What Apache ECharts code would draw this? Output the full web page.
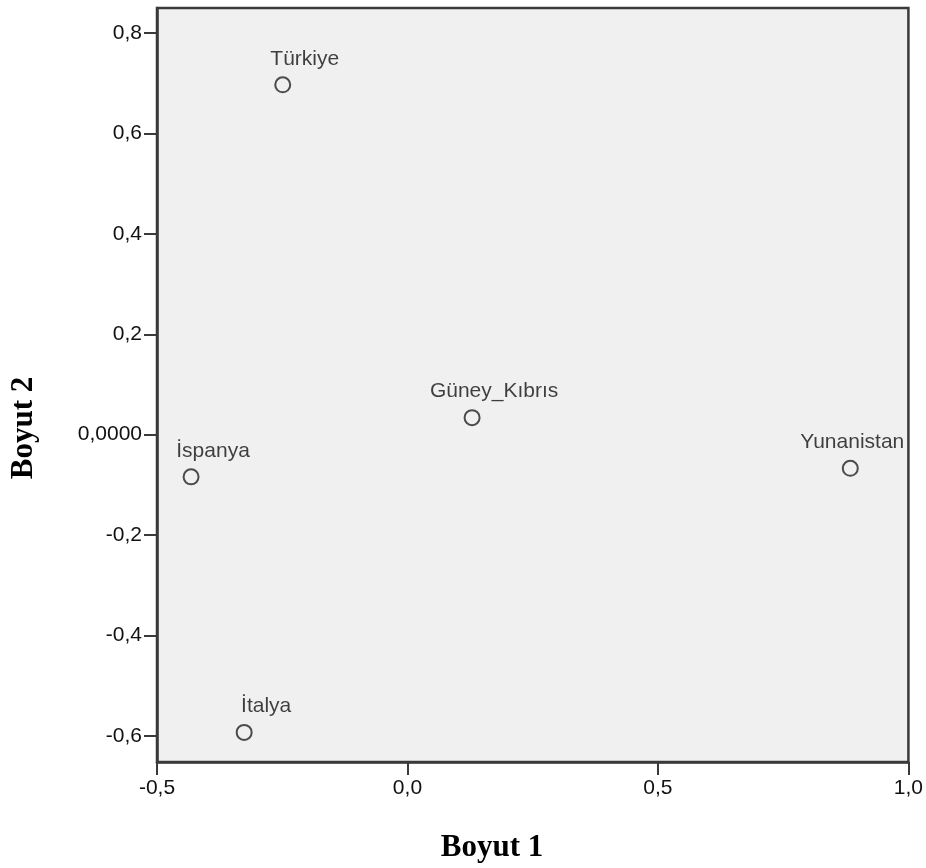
<!DOCTYPE html>
<html><head><meta charset="utf-8">
<script src="https://cdn.jsdelivr.net/npm/echarts@6/dist/echarts.min.js"></script>
<style>html,body{margin:0;padding:0;background:#fff}#c{width:926px;height:868px}</style>
</head><body><div id="c"></div>
<script>
const names = ['Türkiye', 'Güney_Kıbrıs', 'Yunanistan', 'İspanya', 'İtalya'];
const dim1 = [-0.249, 0.129, 0.884, -0.432, -0.326];
const dim2 = [0.697, 0.034, -0.067, -0.084, -0.593];
const labelShift = [22, 22, 2, 22, 22];
const xTicks = [-0.5, 0.0, 0.5, 1.0];
const yTicks = [-0.6, -0.4, -0.2, 0, 0.2, 0.4, 0.6, 0.8];
const xTitle = 'Boyut 1';
const yTitle = 'Boyut 2';

const fmtY = v => (Math.abs(v) < 1e-9 ? '0,0000' : v.toFixed(1).replace('.', ','));
const fmtX = v => (Math.abs(v) < 1e-9 ? 0 : v).toFixed(1).replace('.', ',');

const lblFont = { fontFamily: 'Liberation Sans', fontSize: 21, color: '#111' };
const axisCol = '#3a3a3a';

const chart = echarts.init(document.getElementById('c'));
chart.setOption({
  animation: false,
  grid: { left: 157, right: 16, top: 8, bottom: 106, show: true,
          backgroundColor: '#f0f0f0', borderColor: axisCol, borderWidth: 2.5 },
  xAxis: {
    type: 'value', min: -0.5, max: 1.0,
    axisLine: { show: true, onZero: false, lineStyle: { color: axisCol, width: 2.5 } },
    axisTick: { show: true, length: 13, lineStyle: { color: axisCol, width: 2 }, customValues: xTicks },
    axisLabel: Object.assign({ customValues: xTicks, formatter: fmtX, margin: 16 }, lblFont),
    splitLine: { show: false }
  },
  yAxis: {
    type: 'value', min: -0.652, max: 0.85,
    axisLine: { show: true, onZero: false, lineStyle: { color: axisCol, width: 2.5 } },
    axisTick: { show: true, length: 13, lineStyle: { color: axisCol, width: 2 }, customValues: yTicks },
    axisLabel: Object.assign({ customValues: yTicks, formatter: fmtY, margin: 15 }, lblFont),
    splitLine: { show: false }
  },
  graphic: [
    { type: 'text', x: 492, y: 848,
      style: { text: xTitle, font: 'bold 31px "Liberation Serif"', fill: '#000', align: 'center', verticalAlign: 'middle' } },
    { type: 'text', x: 24, y: 428, rotation: Math.PI / 2,
      style: { text: yTitle, font: 'bold 31px "Liberation Serif"', fill: '#000', align: 'center', verticalAlign: 'middle' } }
  ],
  series: [{
    type: 'scatter',
    data: names.map((n, i) => ({ name: n, value: [dim1[i], dim2[i]],
                                 label: { offset: [labelShift[i], 0] } })),
    symbol: 'circle', symbolSize: 15,
    itemStyle: { color: 'rgba(0,0,0,0)', borderColor: '#222', borderWidth: 2 },
    label: Object.assign({ show: true, position: 'top', distance: 7, formatter: p => p.name }, lblFont)
  }]
});
</script></body></html>
